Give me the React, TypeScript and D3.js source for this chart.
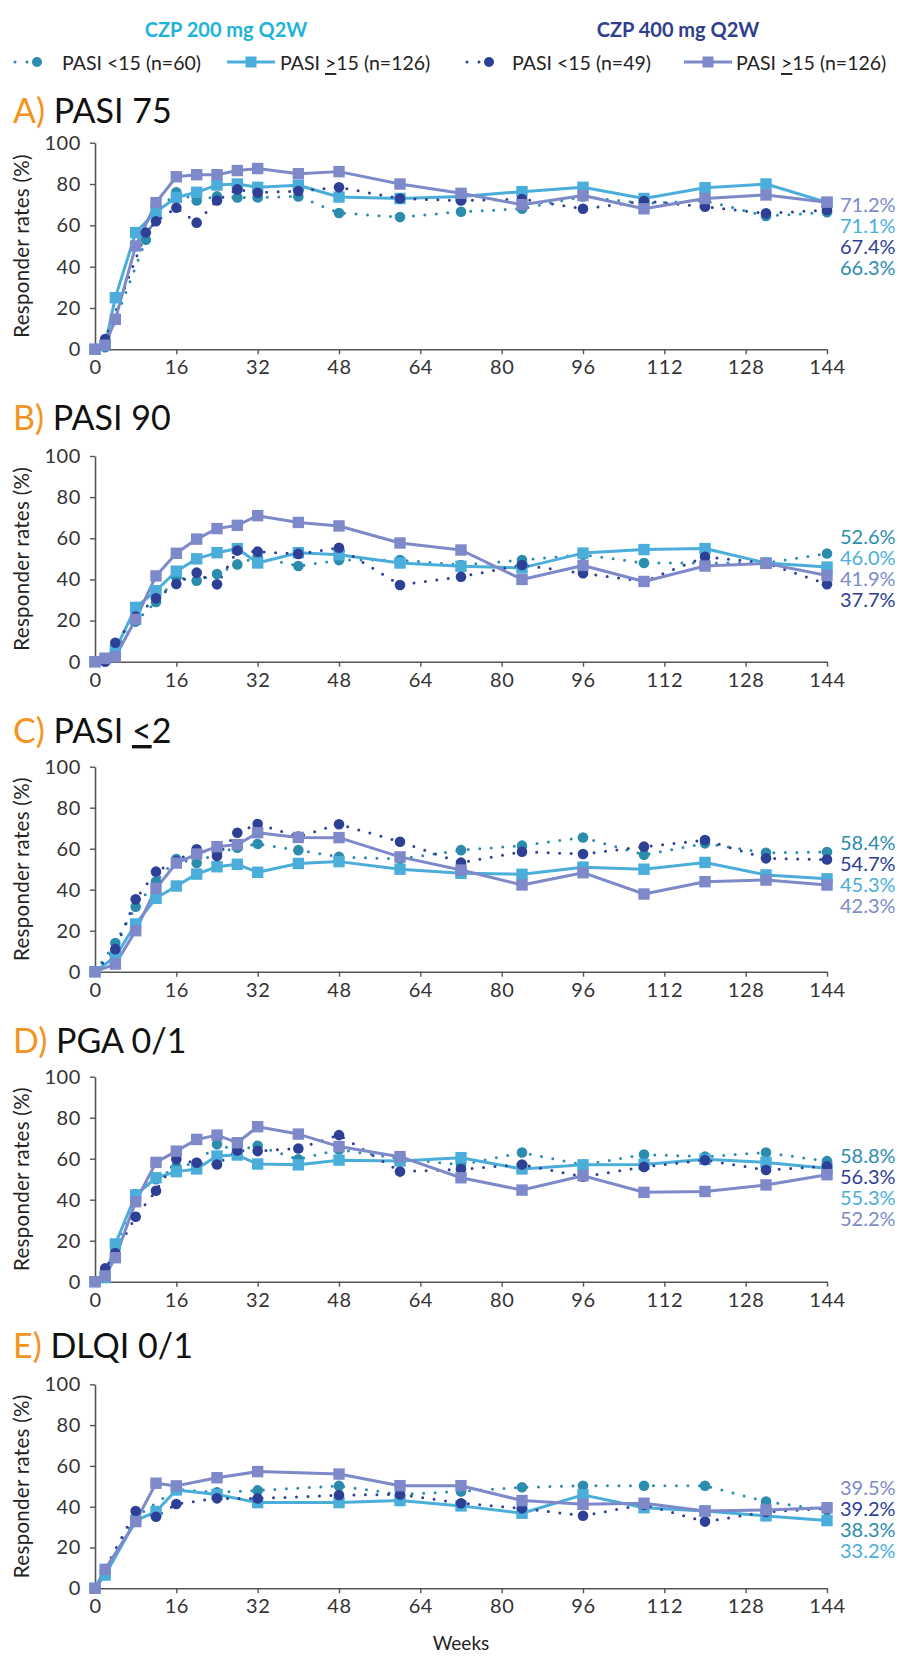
import React, { useEffect, useRef } from 'react';
import * as d3 from 'd3';

// visit weeks shared by all panels (null = no point at that visit)
const weeks = [0, 2, 4, 8, 10, 12, 16, 20, 24, 28, 32, 40, 48, 60, 72, 84, 96, 108, 120, 132, 144];
const xTicks = [0, 16, 32, 48, 64, 80, 96, 112, 128, 144];
const yTicks = [0, 20, 40, 60, 80, 100];

const groupHeaders = ['CZP 200 mg Q2W', 'CZP 400 mg Q2W'];
const legendLabels = ['PASI <15 (n=60)', 'PASI ≥15 (n=126)', 'PASI <15 (n=49)', 'PASI ≥15 (n=126)'];
const panelLetters = ['A)', 'B)', 'C)', 'D)', 'E)'];
const panelTitles = ['PASI 75', 'PASI 90', 'PASI ≤2', 'PGA 0/1', 'DLQI 0/1'];

// A) PASI 75
const pasi75_200lo = [0, 1, null, null, 53, 66, 76, 72, 74, 73.5, 73.5, 74, 66, 64, 66.6, 68, 74, 70.6, 72, 64.5, 66.3];
const pasi75_200hi = [0, 2, 25, 56.5, null, 66.6, 73.5, 76, 79.5, 80, 78.4, 79.4, 73.7, 73, 74, 76.3, 78.4, 73, 78.2, 80, 71.1];
const pasi75_400lo = [0, 5, null, null, 56.5, 62, 68.5, 61.3, 72, 77.4, 75.8, 76.6, 78.4, 73, 72, 72.7, 68, 71.8, 69, 65.8, 67.4];
const pasi75_400hi = [0, 2, 14.5, 50, null, 71, 83.5, 84.5, 84.5, 86.5, 87.5, 85, 86, 80, 75.5, 70, 74.4, 68, 73, 74.7, 71.2];

// B) PASI 90
const pasi90_200lo = [0, 1, 6, 19.5, null, 29, 41, 39.4, 42.6, 47.3, 51, 46.5, 49.4, 49.4, 47, 49.4, 52, 48, 48, 48, 52.6];
const pasi90_200hi = [0, 1.6, 5.7, 26.4, null, 34.5, 44, 50, 53, 55, 48, 53, 52, 48, 46.4, 45.6, 52.8, 54.5, 55, 48, 46.0];
const pasi90_400lo = [0, 0, 9.2, 22, null, 30.8, 37.8, 43.3, 37.6, 54, 53.5, 52.4, 55.4, 37.3, 41.3, 47, 43, 39, 51, 48, 37.7];
const pasi90_400hi = [0, 1.6, 2.4, 20.6, null, 41.7, 52.7, 59.6, 64.7, 66.3, 71, 67.7, 66, 57.7, 54.3, 40, 46.8, 39, 46.5, 47.8, 41.9];

// C) PASI <=2
const pasi2_200lo = [0, null, 14, 31.7, null, 44, 55, 53, 58, 60.5, 62.3, 59.3, 56, 55, 59.3, 61.5, 65.5, 57, 62.6, 58, 58.4];
const pasi2_200hi = [0, null, 7.3, 23.3, null, 35.8, 41.8, 47.6, 51.2, 52.4, 48.5, 52.8, 53.7, 50, 48, 47.5, 51, 50, 53.3, 47.2, 45.3];
const pasi2_400lo = [0, null, 11, 35.3, null, 48.8, 54, 59.7, 56.4, 67.8, 72, 65.9, 71.9, 63.4, 53.2, 58.5, 57.4, 61, 64.2, 55.3, 54.7];
const pasi2_400hi = [0, null, 3.7, 20, null, 40.6, 53, 57.4, 61, 62, 67.8, 65.5, 65.4, 56, 49.6, 42.3, 48.3, 37.9, 43.9, 44.7, 42.3];

// D) PGA 0/1
const pga_200lo = [0, 2, 16, 42.8, null, 50, 56, 58, 67, 64, 66.3, 59.7, 64.5, 60, 57, 63, 57, 62, 61, 63, 58.8];
const pga_200hi = [0, 2, 18.4, 42.3, null, 50.7, 53.7, 55, 61.3, 61.8, 57.4, 57, 59.3, 58.9, 60.5, 55, 57, 57.2, 59.7, 58.2, 55.3];
const pga_400lo = [0, 6.5, 14, 31.7, null, 44.4, 59.7, 58, 57.2, 64, 63.7, 65, 71.5, 53.7, 54.8, 57.2, 51.2, 56, 59.3, 54.5, 56.3];
const pga_400hi = [0, 2.8, 11.7, 39, null, 58.2, 63.7, 69.4, 71.5, 67.8, 75.6, 72, 65.9, 61, 50.7, 44.7, 51.7, 43.6, 44, 47.2, 52.2];

// E) DLQI 0/1
const dlqi_200lo = [0, null, null, 35, null, null, 48.5, null, 47, null, 48, null, 50.2, 46, 47.5, 49.5, 50.3, 50.3, 50.3, 42.5, 38.3];
const dlqi_200hi = [0, 6.5, null, 33.2, null, 37.6, 48.2, null, 46, null, 42, null, 42, 43, 40.4, 36.8, 45.8, 39.5, 37.9, 35.5, 33.2];
const dlqi_400lo = [0, null, null, 37.9, null, 35.1, 41.3, null, 44.1, null, 44, null, 45.7, 46, 41.7, 39.2, 35.6, 41, 32.7, 37.4, 39.2];
const dlqi_400hi = [0, 9.3, null, 32.7, null, 51.5, 50.2, null, 54.2, null, 57.2, null, 56, 50.3, 50.3, 43, 41.2, 41.7, 37.9, 38.4, 39.5];

const panelData = [
  [pasi75_200lo, pasi75_200hi, pasi75_400lo, pasi75_400hi],
  [pasi90_200lo, pasi90_200hi, pasi90_400lo, pasi90_400hi],
  [pasi2_200lo, pasi2_200hi, pasi2_400lo, pasi2_400hi],
  [pga_200lo, pga_200hi, pga_400lo, pga_400hi],
  [dlqi_200lo, dlqi_200hi, dlqi_400lo, dlqi_400hi],
];

// series styles, same order as the data: 200 <15, 200 >=15, 400 <15, 400 >=15
const seriesStyle = [
  { color: '#2b8cae', dotted: true },
  { color: '#4badda', dotted: false },
  { color: '#2e4096', dotted: true },
  { color: '#7d89c8', dotted: false },
];

// panel geometry (px)
const layout = [
  { titleY: 123, top: 142.7, bottom: 349.3, labelTop: 204 },
  { titleY: 430, top: 456, bottom: 661.7, labelTop: 536 },
  { titleY: 743, top: 766.7, bottom: 971.7, labelTop: 842 },
  { titleY: 1053, top: 1076.7, bottom: 1281.7, labelTop: 1155 },
  { titleY: 1358, top: 1384.3, bottom: 1588.3, labelTop: 1487 },
];

const FONT = 'Lato, "Open Sans", sans-serif';
const ORANGE = '#f39321';
const AXIS = '#555';

// writes text where ≤ / ≥ are drawn as an underlined < / >
const addText = (sel, str) => {
  str.split(/([≤≥])/).forEach((part) => {
    if (!part) return;
    if (part === '≤' || part === '≥') {
      sel.append('tspan').style('text-decoration', 'underline').text(part === '≤' ? '<' : '>');
    } else {
      sel.append('tspan').text(part);
    }
  });
};

const App = () => {
  const ref = useRef<SVGSVGElement>(null);

  useEffect(() => {
    const svg = d3.select(ref.current);
    svg.selectAll('*').remove();
    svg.style('font-family', FONT);

    // group headers
    const headerColors = ['#1fb3d9', '#2f3f8e'];
    const headerX = [226, 678];
    groupHeaders.forEach((h, i) => {
      svg
        .append('text')
        .attr('x', headerX[i])
        .attr('y', 29)
        .attr('text-anchor', 'middle')
        .attr('dominant-baseline', 'central')
        .attr('font-size', 20)
        .attr('font-weight', 700)
        .attr('fill', headerColors[i])
        .text(h);
    });

    // legend
    const legendY = 62;
    const legendItems = [
      { x1: 15, x2: 51, mx: 37, tx: 62 },
      { x1: 227, x2: 275, mx: 251, tx: 280 },
      { x1: 467, x2: 503, mx: 489, tx: 512 },
      { x1: 684, x2: 732, mx: 708, tx: 736 },
    ];
    legendItems.forEach((it, i) => {
      const st = seriesStyle[i];
      const lg = svg.append('g');
      lg.append('line')
        .attr('x1', it.x1)
        .attr('x2', it.x2)
        .attr('y1', legendY)
        .attr('y2', legendY)
        .attr('stroke', st.color)
        .attr('stroke-width', st.dotted ? 3 : 3.2)
        .attr('stroke-linecap', st.dotted ? 'round' : 'butt')
        .attr('stroke-dasharray', st.dotted ? '0 12' : null);
      if (st.dotted) {
        lg.append('circle').attr('cx', it.mx).attr('cy', legendY).attr('r', 5).attr('fill', st.color);
      } else {
        lg.append('rect').attr('x', it.mx - 5.5).attr('y', legendY - 5.5).attr('width', 11).attr('height', 11).attr('fill', st.color);
      }
      const t = lg
        .append('text')
        .attr('x', it.tx)
        .attr('y', legendY)
        .attr('dominant-baseline', 'central')
        .attr('font-size', 19.5)
        .attr('fill', '#222');
      addText(t, legendLabels[i]);
    });

    const x0 = 95;
    const x1 = 827;
    const x = d3.scaleLinear().domain([0, 144]).range([x0, x1]);

    panelData.forEach((series, p) => {
      const L = layout[p];
      const y = d3.scaleLinear().domain([0, 100]).range([L.bottom, L.top]);
      const g = svg.append('g');

      // title
      const title = g
        .append('text')
        .attr('x', 13)
        .attr('y', L.titleY)
        .attr('font-size', 34)
        .attr('fill', '#111');
      title.append('tspan').attr('fill', ORANGE).text(panelLetters[p]);
      title.append('tspan').text(' ');
      addText(title, panelTitles[p]);

      // axes
      const yAxis = d3.axisLeft(y).tickValues(yTicks).tickSize(5).tickSizeOuter(0).tickPadding(9);
      const xAxis = d3.axisBottom(x).tickValues(xTicks).tickSize(5).tickSizeOuter(0).tickPadding(6);

      const ya = g.append('g').attr('transform', `translate(${x0},0)`).call(yAxis);
      const xa = g.append('g').attr('transform', `translate(0,${L.bottom})`).call(xAxis);
      [ya, xa].forEach((a) => {
        a.select('.domain').attr('stroke', AXIS).attr('stroke-width', 1.6);
        a.selectAll('.tick line').attr('stroke', AXIS).attr('stroke-width', 1.4);
        a.selectAll('.tick text')
          .attr('font-size', 20)
          .attr('font-family', FONT)
          .attr('letter-spacing', 0.6)
          .attr('fill', '#333');
      });

      g.append('text')
        .attr('transform', `translate(21,${(L.top + L.bottom) / 2}) rotate(-90)`)
        .attr('text-anchor', 'middle')
        .attr('dominant-baseline', 'central')
        .attr('font-size', 20.5)
        .attr('letter-spacing', 0.3)
        .attr('fill', '#222')
        .text('Responder rates (%)');

      const line = d3
        .line<{ w: number; v: number }>()
        .x((d) => x(d.w))
        .y((d) => y(d.v));

      const pts = series.map((vals) =>
        weeks.map((w, k) => ({ w, v: vals[k] })).filter((d) => d.v !== null) as { w: number; v: number }[]
      );

      // lines first, then markers
      pts.forEach((d, s) => {
        const st = seriesStyle[s];
        g.append('path')
          .datum(d)
          .attr('d', line)
          .attr('fill', 'none')
          .attr('stroke', st.color)
          .attr('stroke-width', 3)
          .attr('stroke-linecap', st.dotted ? 'round' : 'butt')
          .attr('stroke-linejoin', 'round')
          .attr('stroke-dasharray', st.dotted ? '0 11.5' : null);
      });

      pts.forEach((d, s) => {
        const st = seriesStyle[s];
        if (st.dotted) {
          g.selectAll(null)
            .data(d)
            .enter()
            .append('circle')
            .attr('cx', (e) => x(e.w))
            .attr('cy', (e) => y(e.v))
            .attr('r', 5.3)
            .attr('fill', st.color);
        } else {
          g.selectAll(null)
            .data(d)
            .enter()
            .append('rect')
            .attr('x', (e) => x(e.w) - 5.7)
            .attr('y', (e) => y(e.v) - 5.7)
            .attr('width', 11.4)
            .attr('height', 11.4)
            .attr('fill', st.color);
        }
      });

      // end values at week 144, highest first
      const ends = series
        .map((vals, s) => ({ v: vals[vals.length - 1] as number, color: seriesStyle[s].color }))
        .sort((a, b) => b.v - a.v);
      ends.forEach((e, k) => {
        g.append('text')
          .attr('x', 840)
          .attr('y', L.labelTop + k * 21)
          .attr('dominant-baseline', 'central')
          .attr('font-size', 20)
          .attr('fill', e.color)
          .text(`${e.v.toFixed(1)}%`);
      });
    });

    svg
      .append('text')
      .attr('x', (x0 + x1) / 2)
      .attr('y', 1650)
      .attr('text-anchor', 'middle')
      .attr('font-size', 19)
      .attr('fill', '#222')
      .text('Weeks');
  }, []);

  return <svg ref={ref} width={897} height={1656} style={{ position: 'absolute', left: 0, top: 0 }} />;
};

export default App;
